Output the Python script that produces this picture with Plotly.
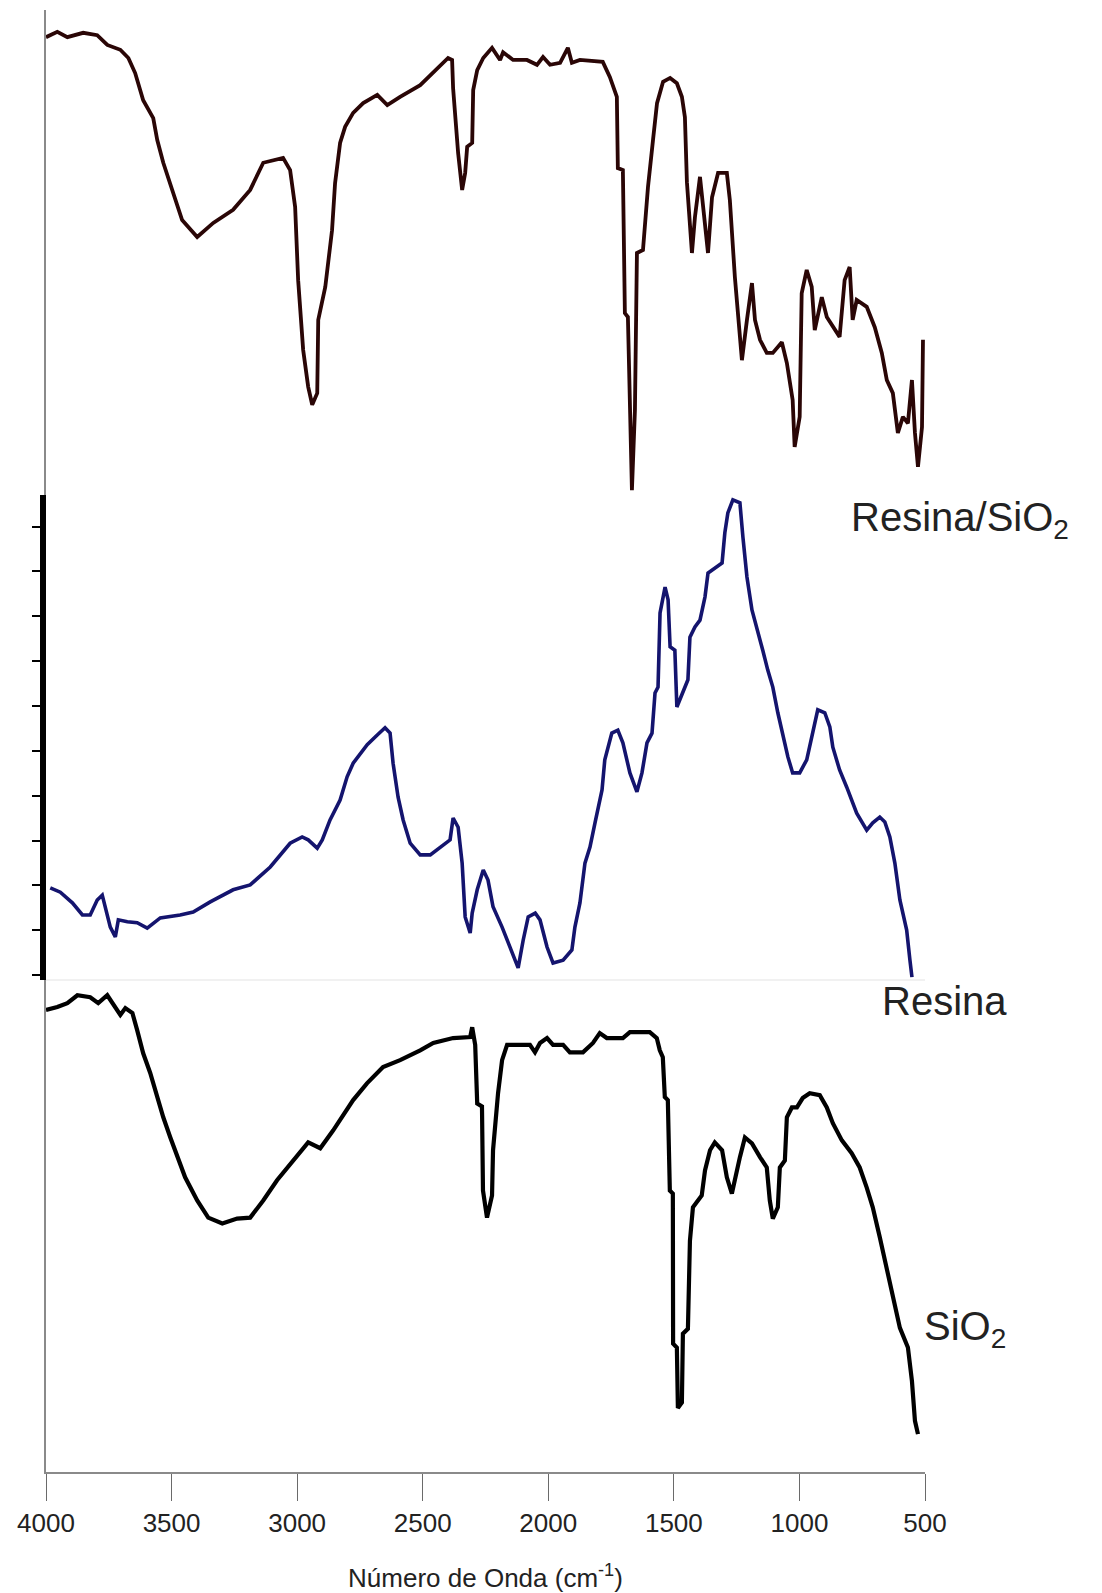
import plotly.graph_objects as go

# ---- Resina/SiO2 (top spectrum) ----
wn_top = [4000, 3955, 3915, 3852, 3796, 3756, 3704, 3672, 3645, 3613, 3573, 3557, 3533, 3493, 3458, 3398,
          3334, 3255, 3187, 3135, 3056, 3028, 3008, 2996, 2976, 2956, 2940, 2920, 2916, 2888, 2861, 2849,
          2829, 2809, 2777, 2737, 2681, 2641, 2590, 2510, 2458, 2399, 2383, 2379, 2359, 2343, 2331, 2323,
          2303, 2299, 2283, 2259, 2224, 2192, 2180, 2140, 2085, 2045, 2021, 1993, 1953, 1922, 1906, 1874,
          1783, 1755, 1727, 1723, 1703, 1695, 1683, 1667, 1655, 1647, 1623, 1615, 1603, 1583, 1567, 1543,
          1515, 1488, 1468, 1456, 1448, 1428, 1416, 1396, 1384, 1364, 1348, 1324, 1289, 1277, 1257, 1237,
          1229, 1209, 1189, 1177, 1157, 1130, 1106, 1070, 1050, 1027, 1019, 999, 991, 971, 951, 939,
          911, 891, 840, 820, 800, 788, 772, 732, 700, 672, 652, 628, 608, 588, 568, 552, 540, 528, 512, 508]
t_top = [94.4, 95.5, 94.4, 95.3, 94.8, 92.8, 91.8, 90.1, 87.0, 81.4, 77.7, 73.2, 68.5, 62.3, 56.7, 53.2,
         56.1, 58.8, 62.9, 68.5, 69.5, 67.0, 59.4, 44.3, 29.9, 22.3, 18.6, 21.0, 36.1, 42.9, 54.6, 64.3,
         72.6, 75.9, 78.8, 80.8, 82.5, 80.4, 82.1, 84.5, 87.0, 90.1, 89.7, 83.9, 70.5, 62.9, 66.4, 71.8,
         72.6, 83.5, 87.6, 90.1, 92.2, 89.7, 91.3, 89.7, 89.7, 88.7, 90.3, 88.7, 89.1, 92.2, 89.1, 89.7,
         89.3, 86.2, 82.1, 67.4, 67.0, 37.5, 36.7, 1.0, 17.5, 49.9, 50.5, 55.3, 63.5, 73.2, 80.8, 85.2,
         86.0, 84.9, 82.1, 77.9, 64.5, 49.9, 57.3, 65.6, 59.4, 49.9, 61.4, 66.4, 66.4, 60.8, 44.9, 31.3,
         27.8, 36.1, 43.7, 36.1, 32.0, 29.3, 29.3, 31.5, 27.2, 19.6, 9.9, 16.1, 41.6, 46.4, 42.9, 34.0,
         40.8, 36.7, 32.6, 44.3, 47.0, 36.1, 40.2, 38.8, 34.6, 29.3, 23.7, 21.0, 12.8, 16.1, 14.8, 23.7,
         12.8, 5.8, 14.0, 32.0]

# ---- Resina (middle spectrum) ----
wn_mid = [3983, 3943, 3895, 3855, 3824, 3796, 3776, 3756, 3744, 3724, 3712, 3676, 3637, 3597, 3545, 3466,
          3414, 3346, 3255, 3187, 3107, 3028, 2980, 2956, 2920, 2900, 2869, 2829, 2801, 2777, 2721, 2681,
          2650, 2630, 2618, 2598, 2578, 2550, 2510, 2470, 2431, 2391, 2379, 2359, 2343, 2331, 2311, 2303,
          2283, 2259, 2240, 2220, 2184, 2152, 2120, 2100, 2080, 2052, 2033, 2005, 1981, 1941, 1906, 1894,
          1874, 1854, 1834, 1814, 1786, 1775, 1747, 1723, 1703, 1675, 1647, 1627, 1607, 1587, 1575, 1563,
          1555, 1535, 1523, 1515, 1496, 1488, 1464, 1444, 1436, 1416, 1396, 1376, 1364, 1328, 1308, 1297,
          1285, 1265, 1237, 1225, 1209, 1189, 1166, 1146, 1126, 1106, 1086, 1066, 1046, 1027, 999, 971,
          951, 927, 899, 879, 867, 840, 812, 772, 732, 708, 680, 660, 640, 620, 600, 573, 560, 552]
t_mid = [19.0, 18.1, 15.9, 13.4, 13.4, 16.5, 17.5, 13.8, 10.9, 8.9, 12.4, 12.0, 11.8, 10.7, 12.8, 13.4,
         14.0, 16.1, 18.6, 19.6, 23.3, 28.2, 29.5, 28.9, 27.2, 28.9, 33.0, 37.1, 41.9, 44.7, 48.5, 50.5,
         52.0, 50.9, 44.7, 37.7, 33.0, 28.2, 25.8, 25.8, 27.4, 28.9, 33.4, 31.5, 24.1, 13.0, 9.7, 13.8,
         18.6, 22.7, 20.6, 15.1, 10.9, 6.8, 2.5, 8.2, 13.0, 13.8, 12.4, 6.8, 3.5, 4.1, 6.2, 10.9,
         15.9, 24.1, 27.4, 32.4, 39.2, 45.4, 50.9, 51.5, 48.9, 42.7, 38.8, 42.7, 48.9, 50.9, 59.2, 60.4,
         75.7, 81.0, 78.4, 68.7, 68.0, 56.3, 59.2, 61.9, 70.7, 72.8, 74.2, 79.0, 83.9, 85.2, 86.0, 92.2,
         96.3, 99.0, 98.4, 91.3, 83.1, 76.3, 72.2, 68.0, 63.9, 60.4, 55.1, 50.1, 46.0, 42.7, 42.7, 45.4,
         50.1, 55.7, 55.1, 52.2, 48.0, 43.3, 39.8, 34.4, 30.9, 32.4, 33.6, 32.6, 29.5, 24.1, 16.5, 10.3,
         4.1, 0.6]

# ---- SiO2 (bottom spectrum) ----
wn_bot = [4000, 3955, 3915, 3875, 3824, 3792, 3756, 3716, 3704, 3684, 3656, 3637, 3613, 3585, 3557, 3533,
          3505, 3477, 3446, 3398, 3354, 3298, 3239, 3187, 3135, 3080, 3016, 2956, 2908, 2857, 2777, 2722,
          2658, 2590, 2510, 2458, 2379, 2311, 2303, 2291, 2283, 2264, 2260, 2244, 2224, 2220, 2200, 2184,
          2164, 2073, 2053, 2033, 2005, 1981, 1941, 1914, 1862, 1822, 1795, 1767, 1703, 1675, 1596, 1568,
          1556, 1544, 1536, 1524, 1516, 1504, 1503, 1488, 1484, 1468, 1464, 1444, 1436, 1424, 1389, 1376,
          1356, 1337, 1308, 1289, 1269, 1249, 1237, 1217, 1189, 1157, 1130, 1118, 1106, 1086, 1078, 1058,
          1050, 1030, 1010, 987, 959, 919, 891, 867, 831, 792, 760, 732, 708, 680, 652, 628,
          600, 568, 552, 540, 528]
t_bot = [93.9, 94.5, 95.3, 96.9, 96.5, 95.3, 96.9, 93.9, 92.9, 94.3, 93.3, 89.8, 85.1, 81.1, 76.2, 72.1,
         68.0, 64.0, 59.9, 55.2, 51.7, 50.5, 51.5, 51.7, 55.2, 59.3, 63.3, 67.0, 65.8, 69.4, 75.6, 79.0,
         82.3, 83.7, 85.7, 87.2, 88.2, 88.4, 90.4, 86.8, 74.9, 74.3, 57.2, 51.7, 56.2, 65.4, 77.0, 83.7,
         86.8, 86.8, 85.3, 87.2, 88.2, 86.8, 86.8, 85.3, 85.3, 87.2, 89.2, 88.2, 88.2, 89.4, 89.4, 88.2,
         85.7, 84.3, 76.2, 75.6, 57.2, 56.6, 26.1, 25.3, 13.0, 14.1, 28.1, 29.1, 47.0, 53.8, 56.2, 61.3,
         65.4, 67.0, 65.4, 59.9, 56.6, 61.9, 64.0, 68.0, 66.8, 64.0, 61.9, 55.2, 51.5, 53.8, 61.9, 63.3,
         72.1, 74.1, 74.1, 76.0, 77.0, 76.6, 74.1, 70.9, 67.4, 64.8, 61.9, 57.8, 53.8, 47.7, 41.5, 36.3,
         29.3, 25.3, 18.5, 10.4, 7.7]

x_ticks = [4000, 3500, 3000, 2500, 2000, 1500, 1000, 500]
mid_tick0 = 1.0
mid_dtick = 9.25

labels = ["Resina/SiO<sub>2</sub>", "Resina", "SiO<sub>2</sub>"]

FONT = "Liberation Sans, Arial, sans-serif"

fig = go.Figure()
fig.add_trace(go.Scatter(x=wn_top, y=t_top, mode="lines", yaxis="y3",
                         line=dict(color="#2a0606", width=3.8), showlegend=False))
fig.add_trace(go.Scatter(x=wn_mid, y=t_mid, mode="lines", yaxis="y2",
                         line=dict(color="#14146e", width=3.6), showlegend=False))
fig.add_trace(go.Scatter(x=wn_bot, y=t_bot, mode="lines", yaxis="y",
                         line=dict(color="#000000", width=4.2), showlegend=False))

W, H = 1102, 1593
# the page body adds an 8px offset; margins compensate so the plot lands where the reference has it
ml, mr, mt, mb = 38, 185, 2, 129
ph = H - mt - mb
d1 = (1472 - 980) / ph
d2 = (1472 - 495) / ph

fig.update_layout(
    width=W, height=H,
    margin=dict(l=ml, r=mr, t=mt, b=mb, autoexpand=False),
    paper_bgcolor="white", plot_bgcolor="white",
    font=dict(family=FONT, color="#222222"),
    xaxis=dict(range=[4000, 500], autorange=False, tickvals=x_ticks,
               showgrid=False, zeroline=False, showline=True, linecolor="#8a8a8a", linewidth=2,
               ticks="outside", ticklen=27, tickcolor="#6a6a6a", tickwidth=1.2,
               tickfont=dict(size=26, color="#222222"),
               title=dict(text="Número de Onda (cm<sup>-1</sup>)", font=dict(size=26, color="#222222"),
                          standoff=32),
               anchor="y"),
    yaxis=dict(domain=[0, d1], range=[0, 100], autorange=False, showgrid=False, zeroline=False,
               showline=True, linecolor="#8a8a8a", linewidth=1.5, ticks="", showticklabels=False),
    yaxis2=dict(domain=[d1, d2], range=[0, 100], autorange=False, showgrid=False, zeroline=False,
                showline=True, linecolor="#000000", linewidth=6, ticks="outside", ticklen=8,
                tickcolor="#000000", tickwidth=2, tick0=mid_tick0, dtick=mid_dtick,
                showticklabels=False, anchor="x"),
    yaxis3=dict(domain=[d2, 1], range=[0, 100], autorange=False, showgrid=False, zeroline=False,
                showline=True, linecolor="#8a8a8a", linewidth=1.5, ticks="", showticklabels=False,
                anchor="x"),
)

# faint separator at top of the SiO2 panel
fig.add_shape(type="line", xref="paper", yref="paper", x0=0, x1=1, y0=d1, y1=d1,
              line=dict(color="#ececec", width=1.5))

pos = [(0.913, 0.651), (0.949, 0.322), (0.997, 0.098)]
for txt, (px, py) in zip(labels, pos):
    fig.add_annotation(text=txt, xref="paper", yref="paper", x=px, y=py,
                       xanchor="left", yanchor="middle", showarrow=False,
                       font=dict(size=40, color="#222222", family=FONT))

fig.write_html("out.html")
